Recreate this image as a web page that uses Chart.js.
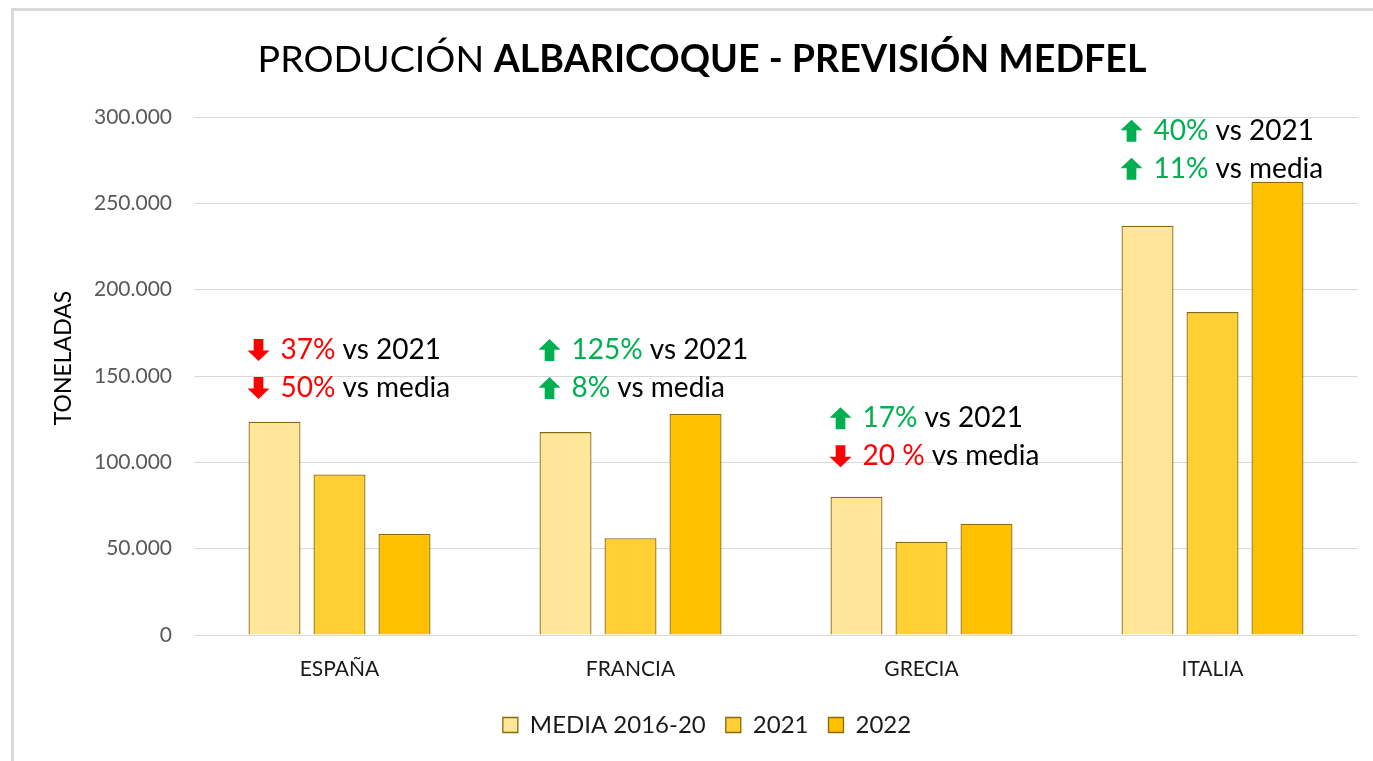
<!DOCTYPE html>
<html><head><meta charset="utf-8">
<script src="https://cdn.jsdelivr.net/npm/chart.js@4"></script>
<style>html,body{margin:0;padding:0;background:#fff;}#wrap{width:1373px;height:761px;position:relative;}</style>
</head><body><div id="wrap"><canvas id="c" width="1373" height="761"></canvas></div>
<script>
const categories = ['ESPAÑA', 'FRANCIA', 'GRECIA', 'ITALIA'];
const seriesNames = ['MEDIA 2016-20', '2021', '2022'];
const media = [123500, 117500, 80000, 237000];
const v2021 = [93000, 56000, 54000, 187000];
const v2022 = [58500, 128000, 64500, 262500];
const yMax = 300000;
const yStep = 50000;
const yTitle = 'TONELADAS';
// annotations: category index, value where the first line sits, arrow direction, percent text, rest
const noteCat = [0, 0, 1, 1, 2, 2, 3, 3];
const noteLine = [0, 1, 0, 1, 0, 1, 0, 1];
const noteAnchor = [165000, 165000, 165000, 165000, 125500, 125500, 292000, 292000];
const noteUp = [false, false, true, true, true, false, true, true];
const notePct = ['37%', '50%', '125%', '8%', '17%', '20 %', '40%', '11%'];
const noteRest = [' vs 2021', ' vs media', ' vs 2021', ' vs media', ' vs 2021', ' vs media', ' vs 2021', ' vs media'];

const FONT = 'Lato, "Open Sans", sans-serif';
const fmt = v => v === 0 ? '0' : String(v).replace(/\B(?=(\d{3})+(?!\d))/g, '.');

const framePlugin = {
  id: 'frame',
  beforeDraw(chart) {
    const ctx = chart.ctx;
    ctx.save();
    ctx.fillStyle = '#ffffff';
    ctx.fillRect(0, 0, chart.width, chart.height);
    ctx.strokeStyle = '#d9d9d9';
    ctx.lineWidth = 3;
    ctx.beginPath();
    ctx.moveTo(12.5, chart.height);
    ctx.lineTo(12.5, 9.5);
    ctx.lineTo(chart.width, 9.5);
    ctx.stroke();
    ctx.restore();
  }
};

const titlePlugin = {
  id: 'mixedTitle',
  afterDraw(chart) {
    const ctx = chart.ctx;
    ctx.save();
    const a = 'PRODUCIÓN ', b = 'ALBARICOQUE - PREVISIÓN MEDFEL';
    const fa = '400 37.6px ' + FONT, fb = '700 37.6px ' + FONT;
    ctx.font = fa; const wa = ctx.measureText(a).width;
    ctx.font = fb; const wb = ctx.measureText(b).width;
    const cx = 702, y = 60;
    let x = cx - (wa + wb) / 2;
    ctx.fillStyle = '#000';
    ctx.textBaseline = 'middle';
    ctx.textAlign = 'left';
    ctx.font = fa; ctx.fillText(a, x, y);
    ctx.font = fb; ctx.fillText(b, x + wa, y);
    // y axis title, centred like the original
    ctx.save();
    ctx.translate(64, 358);
    ctx.rotate(-Math.PI / 2);
    ctx.textAlign = 'center';
    ctx.font = '400 23px ' + FONT;
    ctx.fillStyle = '#000';
    ctx.fillText(yTitle, 0, 0);
    ctx.restore();
    ctx.restore();
  }
};

const notesPlugin = {
  id: 'notes',
  afterDatasetsDraw(chart) {
    const ctx = chart.ctx;
    const ys = chart.scales.y;
    const meta = chart.getDatasetMeta(0);
    ctx.save();
    ctx.textBaseline = 'middle';
    ctx.textAlign = 'left';
    for (let i = 0; i < noteCat.length; i++) {
      const bar = meta.data[noteCat[i]];
      const left = bar.x - bar.width / 2;
      const y = ys.getPixelForValue(noteAnchor[i]) + noteLine[i] * 38;
      const up = noteUp[i];
      const col = up ? '#00B050' : '#FF0000';
      const ax = left - 1, aw = 22, ah = 22;
      const top = y - ah / 2, bot = y + ah / 2;
      ctx.fillStyle = col;
      ctx.beginPath();
      if (up) {
        ctx.moveTo(ax + aw / 2, top);
        ctx.lineTo(ax + aw, top + ah * 0.48);
        ctx.lineTo(ax + aw * 0.72, top + ah * 0.48);
        ctx.lineTo(ax + aw * 0.72, bot);
        ctx.lineTo(ax + aw * 0.28, bot);
        ctx.lineTo(ax + aw * 0.28, top + ah * 0.48);
        ctx.lineTo(ax, top + ah * 0.48);
      } else {
        ctx.moveTo(ax + aw / 2, bot);
        ctx.lineTo(ax + aw, bot - ah * 0.48);
        ctx.lineTo(ax + aw * 0.72, bot - ah * 0.48);
        ctx.lineTo(ax + aw * 0.72, top);
        ctx.lineTo(ax + aw * 0.28, top);
        ctx.lineTo(ax + aw * 0.28, bot - ah * 0.48);
        ctx.lineTo(ax, bot - ah * 0.48);
      }
      ctx.closePath();
      ctx.fill();
      ctx.font = '400 28px ' + FONT;
      const tx = left + 32;
      ctx.fillStyle = col;
      ctx.fillText(notePct[i], tx, y);
      const w = ctx.measureText(notePct[i]).width;
      ctx.fillStyle = '#000';
      ctx.fillText(noteRest[i], tx + w, y);
    }
    ctx.restore();
  }
};

const border = '#8a6a08';
new Chart(document.getElementById('c'), {
  type: 'bar',
  data: {
    labels: categories,
    datasets: [
      { label: seriesNames[0], data: media, backgroundColor: '#FFE699', borderColor: border, borderWidth: 1.3 },
      { label: seriesNames[1], data: v2021, backgroundColor: '#FFCF33', borderColor: border, borderWidth: 1.3 },
      { label: seriesNames[2], data: v2022, backgroundColor: '#FFC000', borderColor: border, borderWidth: 1.3 }
    ]
  },
  options: {
    responsive: false,
    animation: false,
    devicePixelRatio: 1,
    layout: { padding: { top: 117, right: 15, left: 56, bottom: 14 } },
    datasets: { bar: { categoryPercentage: 0.67, barPercentage: 0.8 } },
    plugins: {
      title: { display: false },
      tooltip: { enabled: false },
      legend: {
        position: 'bottom',
        labels: {
          boxWidth: 15, boxHeight: 15, padding: 20,
          color: '#1a1a1a', font: { family: FONT, size: 24 },
          generateLabels(chart) {
            return chart.data.datasets.map((d, i) => ({
              text: d.label, fillStyle: d.backgroundColor, strokeStyle: d.borderColor,
              lineWidth: 1.3, datasetIndex: i, fontColor: '#1a1a1a'
            }));
          }
        }
      }
    },
    scales: {
      x: {
        grid: { display: false, drawTicks: false },
        border: { display: false },
        ticks: { color: '#1a1a1a', font: { family: FONT, size: 21 }, padding: 22 },
        afterFit(s) { s.height = 58; }
      },
      y: {
        min: 0, max: yMax,
        grid: { color: '#d9d9d9', lineWidth: 1, drawTicks: false },
        border: { display: false },
        ticks: { stepSize: yStep, color: '#595959', font: { family: FONT, size: 21 }, padding: 22, callback: v => fmt(v) },
        title: { display: false },
        afterFit(s) { s.width = 138; }
      }
    }
  },
  plugins: [framePlugin, titlePlugin, notesPlugin]
});
</script>
</body></html>
